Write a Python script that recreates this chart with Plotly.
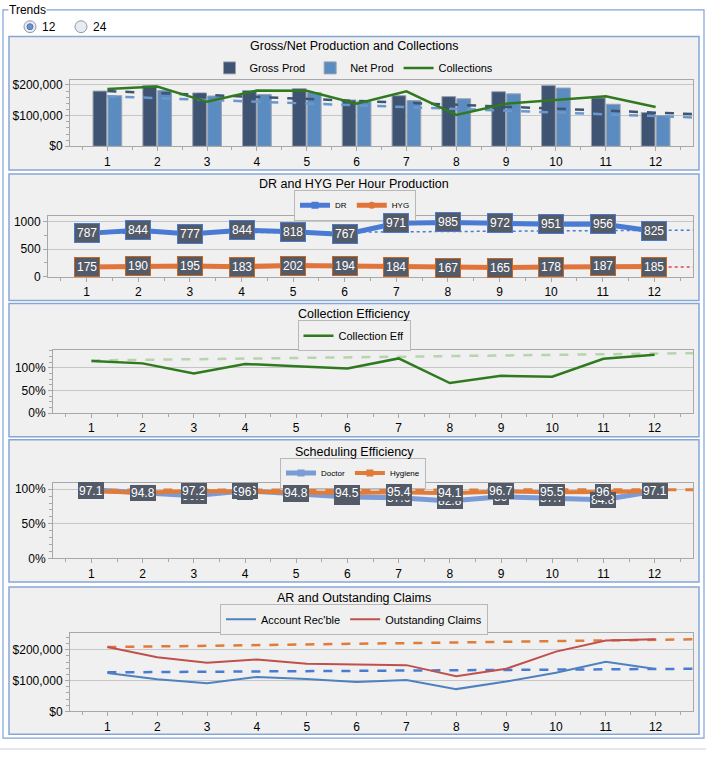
import plotly.graph_objects as go

W, H = 706, 759
months = list(range(1, 13))
trend_x = [1, 12.75]

# Panel 1: Gross/Net Production and Collections
gross_prod = [180000, 198000, 174000, 182000, 188000, 151000, 165000, 162000, 178000, 198000, 158000, 110000]
net_prod = [165000, 182000, 164000, 169000, 175000, 147000, 149000, 155000, 171000, 190000, 137000, 100000]
collections = [187000, 195000, 145000, 182000, 181000, 139000, 179000, 102000, 139000, 151000, 163000, 128000]
gross_trend = [180000, 105000]
net_trend = [163000, 94000]

# Panel 2: DR and HYG Per Hour Production
dr_per_hour = [787, 844, 777, 844, 818, 767, 971, 985, 972, 951, 956, 825]
hyg_per_hour = [175, 190, 195, 183, 202, 194, 184, 167, 165, 178, 187, 185]
dr_trend = [785, 845]
hyg_trend = [182, 178]

# Panel 3: Collection Efficiency
collection_eff = [1.15, 1.10, 0.875, 1.087, 1.036, 0.985, 1.21, 0.665, 0.826, 0.804, 1.20, 1.29]
coll_trend = [1.165, 1.326]

# Panel 4: Scheduling Efficiency
doctor_eff = [99.2, 94.2, 90.6, 97.6, 92.5, 88.8, 87.6, 82.8, 89.0, 87.7, 84.8, 97.0]
hygiene_eff = [97.1, 94.8, 97.2, 96.0, 94.8, 94.5, 95.4, 94.1, 96.7, 95.5, 96.0, 97.1]
hygiene_trend = [98.6, 99.2]

# Panel 5: AR and Outstanding Claims
acct_rec = [124600, 104400, 91700, 111800, 105400, 95800, 102000, 72500, 96900, 125600, 160800, 137400]
out_claims = [208700, 175700, 157600, 168300, 154400, 153400, 150200, 114000, 138400, 194000, 230000, 234000]
ar_trend = [126800, 138400]
claims_trend = [208700, 234000]

FONT = "Liberation Sans"
GRID = "#c6c6c6"
AXL = "#a8a8a8"


def xd(a, b):
    return [a / W, b / W]


def yd(top, bot):
    return [1 - bot / H, 1 - top / H]


fig = go.Figure()

# ---------- Panel 1 ----------
fig.add_trace(go.Bar(x=months, y=gross_prod, name="Gross Prod", marker=dict(color="#3f5373", line=dict(color="#9aa2ae", width=1)),
                     xaxis="x", yaxis="y", legend="legend"))
fig.add_trace(go.Bar(x=months, y=net_prod, name="Net Prod", marker=dict(color="#5a8cc2", line=dict(color="#9aa2ae", width=1)),
                     xaxis="x", yaxis="y", legend="legend"))
fig.add_trace(go.Scatter(x=trend_x, y=gross_trend, mode="lines", line=dict(color="#3f5373", width=2.5, dash="dash"),
                         showlegend=False, xaxis="x", yaxis="y", hoverinfo="skip"))
fig.add_trace(go.Scatter(x=trend_x, y=net_trend, mode="lines", line=dict(color="#6a98cc", width=2.5, dash="dash"),
                         showlegend=False, xaxis="x", yaxis="y", hoverinfo="skip"))
fig.add_trace(go.Scatter(x=months, y=collections, name="Collections", mode="lines", line=dict(color="#2f7a1f", width=2.5),
                         xaxis="x", yaxis="y", legend="legend"))

# ---------- Panel 2 ----------
fig.add_trace(go.Scatter(x=trend_x, y=dr_trend, mode="lines", line=dict(color="#4a7bd4", width=1.5, dash="dot"),
                         showlegend=False, xaxis="x2", yaxis="y2", hoverinfo="skip"))
fig.add_trace(go.Scatter(x=trend_x, y=hyg_trend, mode="lines", line=dict(color="#e04848", width=1.5, dash="dot"),
                         showlegend=False, xaxis="x2", yaxis="y2", hoverinfo="skip"))
fig.add_trace(go.Scatter(x=months, y=dr_per_hour, name="DR", mode="lines+markers",
                         line=dict(color="#4a7bd4", width=5), marker=dict(symbol="square", size=7, color="#4a7bd4"),
                         xaxis="x2", yaxis="y2", legend="legend2"))
fig.add_trace(go.Scatter(x=months, y=hyg_per_hour, name="HYG", mode="lines+markers",
                         line=dict(color="#e0743a", width=5), marker=dict(symbol="circle", size=7, color="#e0743a"),
                         xaxis="x2", yaxis="y2", legend="legend2"))

# ---------- Panel 3 ----------
fig.add_trace(go.Scatter(x=trend_x, y=coll_trend, mode="lines", line=dict(color="#b7d4ae", width=2.5, dash="dash"),
                         showlegend=False, xaxis="x3", yaxis="y3", hoverinfo="skip"))
fig.add_trace(go.Scatter(x=months, y=collection_eff, name="Collection Eff", mode="lines", line=dict(color="#2f7a1f", width=2.5),
                         xaxis="x3", yaxis="y3", legend="legend3"))

# ---------- Panel 4 ----------
fig.add_trace(go.Scatter(x=months, y=doctor_eff, name="Doctor", mode="lines+markers",
                         line=dict(color="#7b9bd6", width=5), marker=dict(symbol="square", size=7, color="#7b9bd6"),
                         xaxis="x4", yaxis="y4", legend="legend4"))
fig.add_trace(go.Scatter(x=months, y=hygiene_eff, name="Hygiene", mode="lines+markers",
                         line=dict(color="#e07b39", width=4), marker=dict(symbol="square", size=7, color="#e07b39"),
                         xaxis="x4", yaxis="y4", legend="legend4"))
fig.add_trace(go.Scatter(x=trend_x, y=hygiene_trend, mode="lines", line=dict(color="#e07b39", width=3, dash="dash"),
                         showlegend=False, xaxis="x4", yaxis="y4", hoverinfo="skip"))

# ---------- Panel 5 ----------
fig.add_trace(go.Scatter(x=trend_x, y=claims_trend, mode="lines", line=dict(color="#e07b39", width=2.5, dash="dash"),
                         showlegend=False, xaxis="x5", yaxis="y5", hoverinfo="skip"))
fig.add_trace(go.Scatter(x=trend_x, y=ar_trend, mode="lines", line=dict(color="#4a7bd4", width=2.5, dash="dash"),
                         showlegend=False, xaxis="x5", yaxis="y5", hoverinfo="skip"))
fig.add_trace(go.Scatter(x=months, y=acct_rec, name="Account Rec'ble", mode="lines", line=dict(color="#4f81bd", width=2),
                         xaxis="x5", yaxis="y5", legend="legend5"))
fig.add_trace(go.Scatter(x=months, y=out_claims, name="Outstanding Claims", mode="lines", line=dict(color="#c0504d", width=2),
                         xaxis="x5", yaxis="y5", legend="legend5"))

# ---------- Axes ----------
plot_boxes = {
    1: (70, 693, 79, 146),
    2: (48, 693, 217, 278),
    3: (53, 693, 352, 416),
    4: (53, 693, 487, 563),
    5: (70, 693, 639, 718),
}
y_specs = {
    1: dict(range=[0, 216000], dtick=100000, tickprefix="$", tickformat=",d", minor_dtick=20000),
    2: dict(range=[0, 1095], dtick=500, tickformat="d", minor_dtick=250),
    3: dict(range=[0, 1.4], dtick=0.5, tickformat=".0%", minor_dtick=0.125),
    4: dict(range=[0, 108.6], dtick=50, ticksuffix="%", minor_dtick=10),
    5: dict(range=[0, 253000], dtick=100000, tickprefix="$", tickformat=",d", minor_dtick=20000),
}
layout_axes = {}
for i, (x0, x1, yt, yb) in plot_boxes.items():
    sfx = "" if i == 1 else str(i)
    layout_axes["xaxis" + sfx] = dict(
        domain=xd(x0, x1), anchor="y" + sfx, range=[0.25, 12.75], tickmode="linear", tick0=1, dtick=1,
        showgrid=False, zeroline=False, showline=True, mirror=True, linecolor=AXL, linewidth=1,
        ticks="outside", ticklen=4, tickcolor=AXL, tickfont=dict(family=FONT, size=12, color="#000"),
        minor=dict(ticks="outside", dtick=0.5, tick0=0.5, ticklen=3, tickcolor=AXL, showgrid=False),
        fixedrange=True,
    )
    s = y_specs[i]
    ya = dict(
        domain=yd(yt, yb), anchor="x" + sfx, range=s["range"], tickmode="linear", tick0=0, dtick=s["dtick"],
        showgrid=True, gridcolor=GRID, gridwidth=1, zeroline=False, showline=True, mirror=True,
        linecolor=AXL, linewidth=1, ticks="outside", ticklen=4, tickcolor=AXL,
        tickfont=dict(family=FONT, size=12, color="#000"),
        minor=dict(ticks="outside", dtick=s["minor_dtick"], tick0=0, ticklen=3, tickcolor=AXL, showgrid=False),
        fixedrange=True,
    )
    for k in ("tickprefix", "tickformat", "ticksuffix"):
        if k in s:
            ya[k] = s[k]
    layout_axes["yaxis" + sfx] = ya

# ---------- Panels / decoration ----------
shapes = []
panels = [(9, 35, 699, 170), (9, 174, 699, 302), (9, 305, 699, 440), (9, 443, 699, 587), (9, 592, 699, 741)]
# outer group box
shapes.append(dict(type="rect", xref="paper", yref="paper", x0=3 / W, x1=704 / W, y0=1 - 745 / H, y1=1 - 8 / H,
                   line=dict(color="#7fa3d6", width=1.2), fillcolor="rgba(0,0,0,0)", layer="below"))
shapes.append(dict(type="line", xref="paper", yref="paper", x0=0, x1=1, y0=1 - 756 / H, y1=1 - 756 / H,
                   line=dict(color="#c8d0dc", width=1), layer="below"))
for (a, t, b, bt) in panels:
    shapes.append(dict(type="rect", xref="paper", yref="paper", x0=a / W, x1=b / W, y0=1 - bt / H, y1=1 - t / H,
                       line=dict(color="#86a6d6", width=1.5), fillcolor="#f0f0f0", layer="below"))
# radio buttons
for cx, sel in ((30, True), (81, False)):
    r = 6
    shapes.append(dict(type="circle", xref="paper", yref="paper", x0=(cx - r) / W, x1=(cx + r) / W,
                       y0=1 - (25 + r) / H, y1=1 - (25 - r) / H, line=dict(color="#8e9aa8", width=1),
                       fillcolor="#e8ecf2"))
    if sel:
        r2 = 3
        shapes.append(dict(type="circle", xref="paper", yref="paper", x0=(cx - r2) / W, x1=(cx + r2) / W,
                           y0=1 - (25 + r2) / H, y1=1 - (25 - r2) / H, line=dict(color="#4f78b8", width=1),
                           fillcolor="#6b90cc"))

annotations = []


def txt(x, y, s, size=12, anchor="center"):
    annotations.append(dict(x=x / W, y=1 - y / H, xref="paper", yref="paper", text=s, showarrow=False,
                            xanchor=anchor, yanchor="middle", font=dict(family=FONT, size=size, color="#000")))


annotations.append(dict(x=8 / W, y=1 - 8 / H, xref="paper", yref="paper", text="Trends", showarrow=False,
                        xanchor="left", yanchor="middle", bgcolor="#ffffff", borderpad=0,
                        font=dict(family=FONT, size=12, color="#000")))
txt(40, 25, "12", anchor="left")
txt(91, 25, "24", anchor="left")

titles = [(45, "Gross/Net Production and Collections"), (184, "DR and HYG Per Hour Production"),
          (316, "Collection Efficiency"), (455, "Scheduling Efficiency"), (603, "AR and Outstanding Claims")]
for y, s in titles:
    txt(354, y, s, size=12.5)

# data labels panel 2
for series, border in ((dr_per_hour, "#4a7bd4"), (hyg_per_hour, "#c8651f")):
    for m, v in zip(months, series):
        annotations.append(dict(x=m, y=v, xref="x2", yref="y2", text=str(v), showarrow=False,
                                bgcolor="#535b69", bordercolor=border, borderwidth=1, borderpad=2,
                                font=dict(family=FONT, size=12, color="#ffffff")))
# data labels panel 4 (doctor beneath, hygiene on top)
for series in (doctor_eff, hygiene_eff):
    for m, v in zip(months, series):
        annotations.append(dict(x=m, y=v, xref="x4", yref="y4", text=f"{v:g}", showarrow=False,
                                bgcolor="#535b69", borderwidth=0, borderpad=1,
                                font=dict(family=FONT, size=12, color="#ffffff")))

leg_common = dict(orientation="h", xanchor="center", yanchor="top", tracegroupgap=0)
legends = dict(
    legend=dict(x=354 / W, y=1 - 52 / H, bgcolor="rgba(0,0,0,0)", borderwidth=0,
                font=dict(family=FONT, size=11, color="#000"), **leg_common),
    legend2=dict(x=355 / W, y=1 - 190 / H, bgcolor="#f0f0f0", bordercolor="#b8b8b8", borderwidth=1,
                 font=dict(family=FONT, size=8, color="#000"), itemwidth=30, **leg_common),
    legend3=dict(x=354 / W, y=1 - 322 / H, bgcolor="#f0f0f0", bordercolor="#b8b8b8", borderwidth=1,
                 font=dict(family=FONT, size=11, color="#000"), **leg_common),
    legend4=dict(x=353 / W, y=1 - 461 / H, bgcolor="#f0f0f0", bordercolor="#b8b8b8", borderwidth=1,
                 font=dict(family=FONT, size=8, color="#000"), itemwidth=30, **leg_common),
    legend5=dict(x=354 / W, y=1 - 609 / H, bgcolor="#f0f0f0", bordercolor="#b8b8b8", borderwidth=1,
                 font=dict(family=FONT, size=11, color="#000"), **leg_common),
)

fig.update_layout(
    width=W, height=H, margin=dict(l=0, r=0, t=0, b=0),
    paper_bgcolor="#ffffff", plot_bgcolor="#f0f0f0",
    barmode="group", bargap=0.4, bargroupgap=0.08,
    showlegend=True, shapes=shapes, annotations=annotations,
    font=dict(family=FONT, size=12, color="#000"),
    **layout_axes, **legends,
)

fig.write_html("out.html")
